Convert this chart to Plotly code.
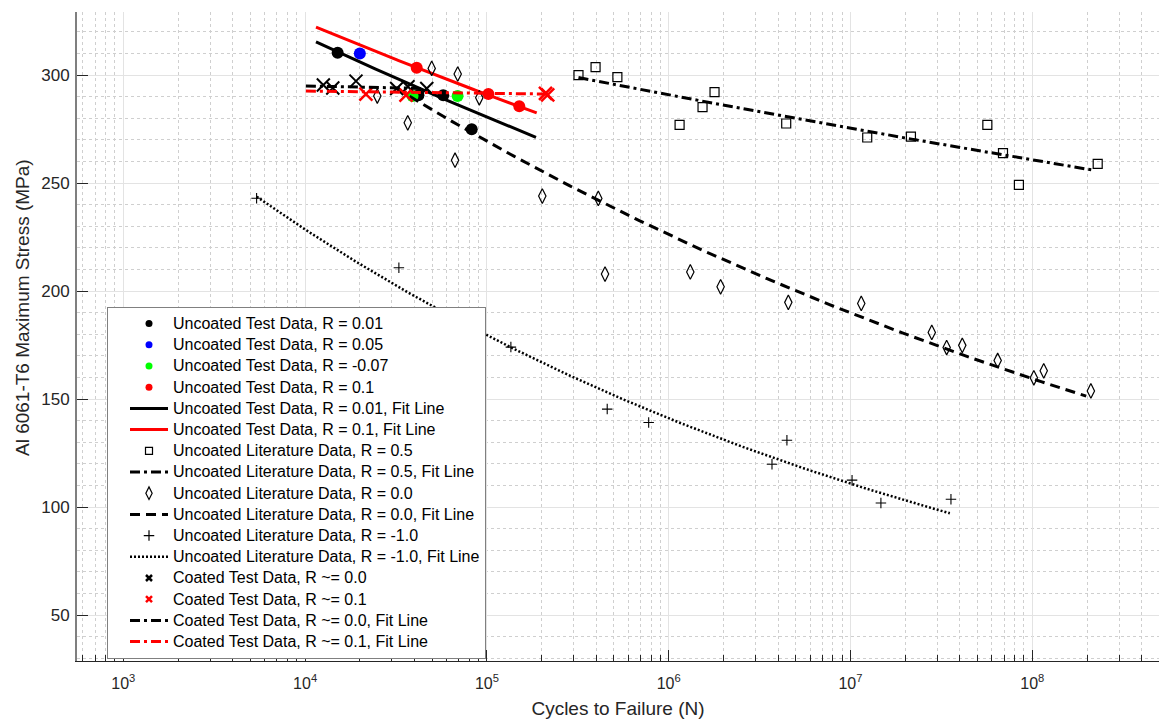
import numpy as np
import plotly.graph_objects as go

# ---------------- data (cycles to failure N, max stress MPa) ----------------
unc_r001_N = [15100, 42000, 57500, 82500]
unc_r001_S = [310.3, 290.7, 290.7, 274.9]

unc_r005_N = [20000]
unc_r005_S = [310.0]

unc_rm007_N = [39000, 69000]
unc_rm007_S = [290.3, 290.3]

unc_r01_N = [41100, 101900, 150700]
unc_r01_S = [303.4, 291.2, 285.6]

lit_r05_N = [319000, 396000, 522000, 1148000, 1535000, 1787000, 4430000,
             12360000, 21500000, 56600000, 69000000, 84400000, 229000000]
lit_r05_S = [300.0, 303.7, 299.1, 277.0, 285.2, 292.1, 277.6,
             271.1, 271.5, 277.0, 263.9, 249.2, 258.9]

lit_r00_N = [49700, 69100, 24950, 90800, 36700, 66800, 201700, 410000, 446500,
             1315000, 1930000, 4550000, 11460000, 28000000, 33800000,
             41200000, 64500000, 102000000, 115600000, 210000000]
lit_r00_S = [303.1, 300.5, 290.3, 289.5, 277.9, 260.6, 244.0, 242.9, 207.9,
             208.9, 202.0, 194.8, 194.3, 180.9, 173.9, 174.9, 167.9, 159.9,
             163.1, 153.8]

lit_rm1_N = [5410, 32800, 135500, 459000, 776000, 3700000, 4470000,
             10200000, 14700000, 35700000]
lit_rm1_S = [243.0, 210.8, 174.1, 145.4, 139.2, 119.9, 131.0, 112.5, 101.9, 103.7]

coat_r00_N = [12600, 14200, 19050, 31900, 36800, 46700]
coat_r00_S = [295.4, 294.0, 297.2, 293.8, 294.6, 293.8]

coat_r01_N = [21600, 35900, 210000, 216000]
coat_r01_S = [291.2, 290.7, 291.5, 290.8]

# Basquin fits  S = A * N**b  over [N_min, N_max]
fit_unc_r001 = (523.5, -0.0542, 11480, 186200)
fit_unc_r01 = (499.9, -0.0470, 11480, 187900)
fit_lit_r05 = (403.8, -0.02375, 319000, 220000000)
fit_lit_r00 = (645.4, -0.0759, 31600, 198000000)
fit_lit_rm1 = (599.5, -0.1047, 5420, 35200000)
fit_coat_r00 = (302.3, -0.00266, 10100, 46700)
fit_coat_r01 = (296.9, -0.001572, 10100, 213000)

legend_names = [
    "Uncoated Test Data, R = 0.01",
    "Uncoated Test Data, R = 0.05",
    "Uncoated Test Data, R = -0.07",
    "Uncoated Test Data, R = 0.1",
    "Uncoated Test Data, R = 0.01, Fit Line",
    "Uncoated Test Data, R = 0.1, Fit Line",
    "Uncoated Literature Data, R = 0.5",
    "Uncoated Literature Data, R = 0.5, Fit Line",
    "Uncoated Literature Data, R = 0.0",
    "Uncoated Literature Data, R = 0.0, Fit Line",
    "Uncoated Literature Data, R = -1.0",
    "Uncoated Literature Data, R = -1.0, Fit Line",
    "Coated Test Data, R ~= 0.0",
    "Coated Test Data, R ~= 0.1",
    "Coated Test Data, R ~= 0.0, Fit Line",
    "Coated Test Data, R ~= 0.1, Fit Line",
]

FONT = "Liberation Sans, Arial, Helvetica, sans-serif"
TXT = "#262626"

GREEN = "#00ff00"
RED = "#ff0000"
BLUE = "#0000ff"
BLACK = "#000000"

DASH = "10px,6px"
DASHDOT = "10px,4px,3px,4px"
DOT = "2px,2px"

# plot-area geometry in pixels
W, H = 1159, 722
ML, MT, MB = 77, 12, 61
PW, PH = W - ML, H - MT - MB


def fit_curve(fit):
    A, b, n0, n1 = fit
    n = np.logspace(np.log10(n0), np.log10(n1), 200)
    return n, A * n ** b


fig = go.Figure()


def pts(N, S, symbol, color, size, lw=1.0):
    mk = dict(symbol=symbol, size=size, color=color,
              line=dict(color=color, width=lw))
    fig.add_trace(go.Scatter(x=N, y=S, mode="markers", marker=mk,
                             showlegend=False, hoverinfo="skip"))


def line(fit, color, dash, width):
    n, s = fit_curve(fit)
    fig.add_trace(go.Scatter(x=n, y=s, mode="lines",
                             line=dict(color=color, dash=dash, width=width),
                             showlegend=False, hoverinfo="skip"))


# plotted series, in drawing order
pts(unc_r001_N, unc_r001_S, "circle", BLACK, 12, 0)
pts(unc_r005_N, unc_r005_S, "circle", BLUE, 12, 0)
pts(unc_rm007_N, unc_rm007_S, "circle", GREEN, 12, 0)
pts(unc_r01_N, unc_r01_S, "circle", RED, 12, 0)
line(fit_unc_r001, BLACK, "solid", 3)
line(fit_unc_r01, RED, "solid", 3)
pts(lit_r05_N, lit_r05_S, "square-open", BLACK, 9, 1.2)
line(fit_lit_r05, BLACK, DASHDOT, 3)
pts(lit_r00_N, lit_r00_S, "diamond-tall-open", BLACK, 10.5, 1.2)
line(fit_lit_r00, BLACK, DASH, 3)
pts(lit_rm1_N, lit_rm1_S, "cross-thin-open", BLACK, 7.5, 1.1)
line(fit_lit_rm1, BLACK, DOT, 2.5)
pts(coat_r00_N, coat_r00_S, "x-thin-open", BLACK, 13, 2)
pts(coat_r01_N, coat_r01_S, "x-thin-open", RED, 13, 2.5)
line(fit_coat_r00, BLACK, DASHDOT, 3)
line(fit_coat_r01, RED, DASHDOT, 3)

# legend entries
legend_styles = [
    dict(mode="markers", marker=dict(symbol="circle", size=7, color=BLACK)),
    dict(mode="markers", marker=dict(symbol="circle", size=7, color=BLUE)),
    dict(mode="markers", marker=dict(symbol="circle", size=7, color=GREEN)),
    dict(mode="markers", marker=dict(symbol="circle", size=7, color=RED)),
    dict(mode="lines", line=dict(color=BLACK, width=3)),
    dict(mode="lines", line=dict(color=RED, width=3)),
    dict(mode="markers", marker=dict(symbol="square-open", size=7, color=BLACK, line=dict(width=1.2))),
    dict(mode="lines", line=dict(color=BLACK, width=3, dash=DASHDOT)),
    dict(mode="markers", marker=dict(symbol="diamond-tall-open", size=9, color=BLACK, line=dict(width=1.2))),
    dict(mode="lines", line=dict(color=BLACK, width=3, dash=DASH)),
    dict(mode="markers", marker=dict(symbol="cross-thin-open", size=7.5, color=BLACK, line=dict(width=1.2))),
    dict(mode="lines", line=dict(color=BLACK, width=2.5, dash=DOT)),
    dict(mode="markers", marker=dict(symbol="x-thin-open", size=6, color=BLACK, line=dict(width=2.5))),
    dict(mode="markers", marker=dict(symbol="x-thin-open", size=6, color=RED, line=dict(width=2.5))),
    dict(mode="lines", line=dict(color=BLACK, width=3, dash=DASHDOT)),
    dict(mode="lines", line=dict(color=RED, width=3, dash=DASHDOT)),
]
for name, st in zip(legend_names, legend_styles):
    label = '<span style="font-size:16px">%s</span>' % name
    fig.add_trace(go.Scatter(x=[None], y=[None], name=label, showlegend=True,
                             hoverinfo="skip", **st))

decades = [3, 4, 5, 6, 7, 8]
major_x = [10.0 ** d for d in decades]
major_txt = ["10<sup>%d</sup>" % d for d in decades]
minor_x = [k * 10.0 ** d for d in [2, 3, 4, 5, 6, 7, 8] for k in range(2, 10)]

fig.update_layout(
    width=W, height=H, autosize=False,
    margin=dict(l=ML, r=0, t=MT, b=MB, pad=0),
    paper_bgcolor="white", plot_bgcolor="white",
    font=dict(family=FONT, color=TXT, size=16),
    showlegend=True,
    legend=dict(
        x=(107 - ML) / PW, y=(H - MB - 307) / PH, xanchor="left", yanchor="top",
        bgcolor="white", bordercolor="#808080", borderwidth=1,
        font=dict(family=FONT, size=14, color="#000000"),
        itemwidth=38, indentation=17, tracegroupgap=0,
    ),
    xaxis=dict(
        type="log", range=[2.7453, 8.697],
        tickmode="array", tickvals=major_x, ticktext=major_txt,
        ticks="inside", ticklen=11, tickcolor=TXT, tickwidth=1,
        showline=True, linecolor=TXT, linewidth=1, mirror=False,
        showgrid=True, gridcolor="#e3e3e3", gridwidth=1,
        zeroline=False,
        tickfont=dict(size=16, color=TXT),
        ticklabelstandoff=8,
        minor=dict(tickmode="array", tickvals=minor_x, ticks="inside",
                   ticklen=6, tickcolor=TXT, showgrid=True,
                   gridcolor="#cfcfcf", griddash="dot", gridwidth=1),
        title=dict(text="Cycles to Failure (N)", font=dict(size=19, color=TXT),
                   standoff=10),
    ),
    yaxis=dict(
        range=[28.8, 329.2], tickmode="linear", tick0=0, dtick=50,
        ticks="inside", ticklen=11, tickcolor=TXT, tickwidth=1,
        showline=True, linecolor="#7f7f7f", linewidth=2,
        showgrid=True, gridcolor="#e3e3e3", gridwidth=1,
        zeroline=False,
        tickfont=dict(size=17, color=TXT),
        ticklabelstandoff=2,
        minor=dict(dtick=10, tick0=0, ticks="", showgrid=True,
                   gridcolor="#cfcfcf", griddash="dot", gridwidth=1),
    ),
    annotations=[dict(
        text="Al 6061-T6 Maximum Stress (MPa)", textangle=-90,
        xref="paper", yref="paper",
        x=(22 - ML) / PW, y=(H - MB - 308) / PH,
        xanchor="center", yanchor="middle", showarrow=False,
        font=dict(family=FONT, size=19, color=TXT),
    )],
)

fig.write_html("out.html")
